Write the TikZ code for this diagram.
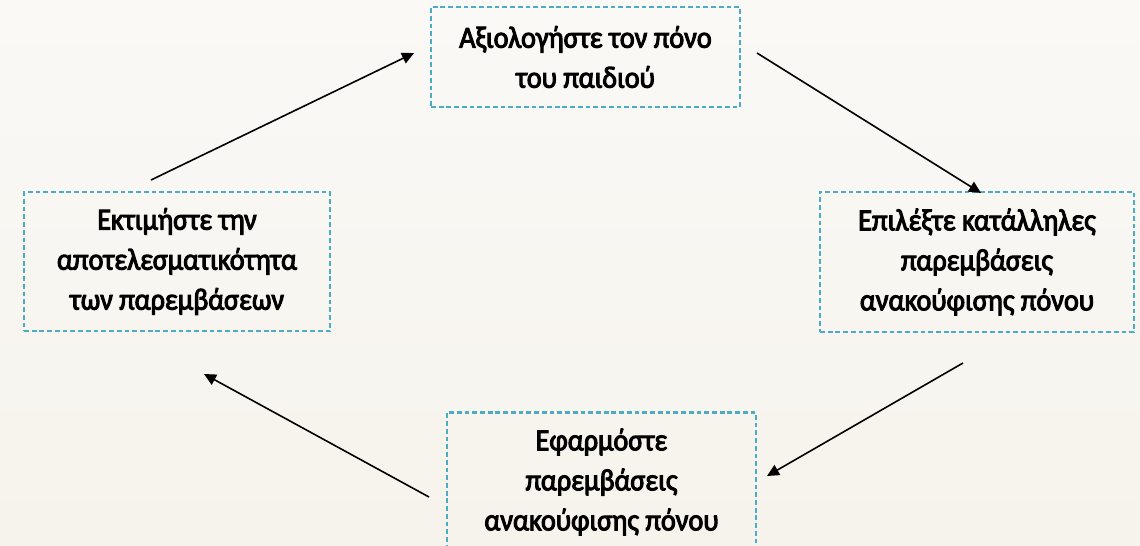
\documentclass[tikz,border=0pt]{standalone}
\usepackage{fontspec}
\setmainfont{Carlito}
\newfontfamily\boxfont{Carlito}[FakeStretch=0.92,RawFeature={embolden=3.2}]
\usetikzlibrary{arrows.meta}
\definecolor{bgtop}{HTML}{FAF9F6}
\definecolor{bgbot}{HTML}{F6F3EC}
\definecolor{boxline}{HTML}{4BACC6}
\tikzset{
  stepbox/.style={draw=boxline, line width=1.6pt, dash pattern=on 3.6pt off 2.2pt,
    align=center, inner sep=0pt, font=\boxfont\fontsize{23}{30}\selectfont, text=black},
  flow/.style={draw=black, line width=1.2pt, -{Triangle[length=9pt,width=8.5pt]}}
}
\begin{document}
\begin{tikzpicture}[x=0.75pt,y=-0.75pt]
\shade[top color=bgtop, bottom color=bgbot] (0,0) rectangle (1140,546);
\useasboundingbox (0,0) rectangle (1140,546);
\node[stepbox, minimum width=231.75pt, minimum height=75pt] (assess) at (585.5,57)
  {Αξιολογήστε τον πόνο\\του παιδιού};
\node[stepbox, minimum width=235.5pt, minimum height=105pt] (select) at (977,262)
  {Επιλέξτε κατάλληλες\\παρεμβάσεις\\ανακούφισης πόνου};
\node[stepbox, minimum width=231.75pt, minimum height=104.25pt] (apply) at (601.5,482)
  {Εφαρμόστε\\παρεμβάσεις\\ανακούφισης πόνου};
\node[stepbox, minimum width=229.5pt, minimum height=104.25pt] (evaluate) at (177,261.5)
  {Εκτιμήστε την\\αποτελεσματικότητα\\των παρεμβάσεων};
\coordinate (a1s) at (757,53);
\coordinate (a1e) at (981,193);
\coordinate (a2s) at (963,363);
\coordinate (a2e) at (767,476);
\coordinate (a3s) at (429,497);
\coordinate (a3e) at (204,374);
\coordinate (a4s) at (151,180);
\coordinate (a4e) at (414,53);
\draw[flow] (a1s) -- (a1e);
\draw[flow] (a2s) -- (a2e);
\draw[flow] (a3s) -- (a3e);
\draw[flow] (a4s) -- (a4e);
\end{tikzpicture}
\end{document}
